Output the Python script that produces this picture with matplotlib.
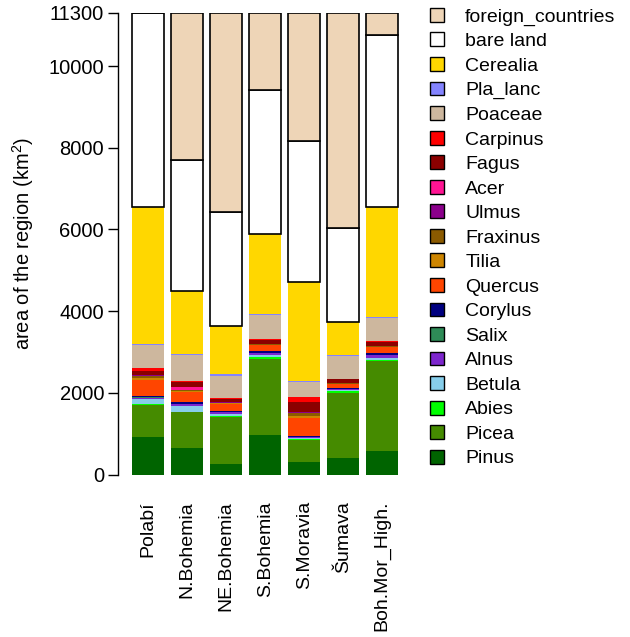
import numpy as np
import matplotlib
matplotlib.use("Agg")
import matplotlib.pyplot as plt
from matplotlib.patches import Patch

plt.rcParams['font.family'] = ['Liberation Sans', 'DejaVu Sans']
plt.rcParams['mathtext.fontset'] = 'custom'
plt.rcParams['mathtext.rm'] = 'Liberation Sans'

regions = ['Polabí', 'N.Bohemia', 'NE.Bohemia', 'S.Bohemia', 'S.Moravia', 'Šumava', 'Boh.Mor_High.']

# stacked from bottom to top
taxa = ['Pinus', 'Picea', 'Abies', 'Betula', 'Alnus', 'Salix', 'Corylus', 'Quercus',
        'Tilia', 'Fraxinus', 'Ulmus', 'Acer', 'Fagus', 'Carpinus', 'Poaceae',
        'Pla_lanc', 'Cerealia', 'bare land', 'foreign_countries']

colors = ['#006400', '#458B00', '#00FF00', '#87CEEB', '#7D26CD', '#2E8B57', '#000080', '#FF4500',
          '#CD8500', '#8B5A00', '#8B008B', '#FF1493', '#8B0000', '#FF0000', '#CDB79E',
          '#8484FF', '#FFD700', '#FFFFFF', '#EED5B7']

Pinus    = [920, 660, 260, 960, 310, 410, 580]
Picea    = [780, 860, 1155, 1865, 535, 1580, 2205]
Abies    = [20, 15, 10, 40, 15, 55, 30]
Betula   = [120, 140, 60, 50, 25, 15, 40]
Alnus    = [40, 50, 45, 50, 25, 30, 60]
Salix    = [10, 10, 5, 5, 5, 5, 5]
Corylus  = [25, 50, 30, 60, 30, 35, 50]
Quercus  = [400, 230, 160, 135, 430, 85, 140]
Tilia    = [40, 30, 25, 15, 60, 10, 20]
Fraxinus = [60, 25, 10, 10, 80, 5, 10]
Ulmus    = [10, 10, 5, 5, 10, 5, 5]
Acer     = [10, 55, 10, 5, 10, 5, 5]
Fagus    = [110, 140, 85, 95, 250, 90, 95]
Carpinus = [60, 25, 15, 25, 120, 15, 25]
Poaceae  = [575, 620, 545, 590, 365, 555, 570]
Pla_lanc = [20, 25, 40, 25, 20, 25, 25]
Cerealia = [3345, 1550, 1180, 1945, 2430, 800, 2690]
bare     = [4755, 3205, 2780, 3535, 3440, 2320, 4205]
foreign  = [0, 3600, 4880, 1885, 3140, 5255, 540]

data = [Pinus, Picea, Abies, Betula, Alnus, Salix, Corylus, Quercus, Tilia, Fraxinus,
        Ulmus, Acer, Fagus, Carpinus, Poaceae, Pla_lanc, Cerealia, bare, foreign]

fig = plt.figure(figsize=(6.3, 6.37), dpi=100)
ax = fig.add_axes([118/630, (637-474.5)/637, (405-118)/630, (474.5-13)/637])

x = np.arange(len(regions)) * 1.2 + 0.7
bottom = np.zeros(len(regions))
for name, vals, col in zip(taxa, data, colors):
    vals = np.array(vals, dtype=float)
    if name in ('bare land', 'foreign_countries'):
        ax.bar(x, vals, 1.0, bottom=bottom, color=col, edgecolor='black', linewidth=1.2)
    else:
        ax.bar(x, vals, 1.0, bottom=bottom, color=col, linewidth=0)
    bottom += vals

ax.set_xlim(-0.23, 8.6)
ax.set_ylim(0, 11300)
for s in ['top', 'right', 'bottom']:
    ax.spines[s].set_visible(False)
ax.spines['left'].set_linewidth(1.0)
ax.set_yticks([0, 2000, 4000, 6000, 8000, 10000, 11300])
ax.tick_params(axis='y', labelsize=14.5, length=7, width=1.0, pad=3)
ax.set_xticks(x)
ax.set_xticklabels(regions, rotation=90, fontsize=14, va='top')
ax.tick_params(axis='x', length=0, pad=19)
ax.set_ylabel('area of the region (km$^2$)', fontsize=14.5, labelpad=9)

handles = [Patch(facecolor=c, edgecolor='black', linewidth=1.0) for c in colors[::-1]]
fig.legend(handles, taxa[::-1], loc='upper left', bbox_to_anchor=(422/630, 1.0),
           frameon=False, fontsize=14, handlelength=0.72, handleheight=0.72,
           handletextpad=1.1, labelspacing=0.35, borderaxespad=0.0)

fig.savefig('out.png', dpi=100)
